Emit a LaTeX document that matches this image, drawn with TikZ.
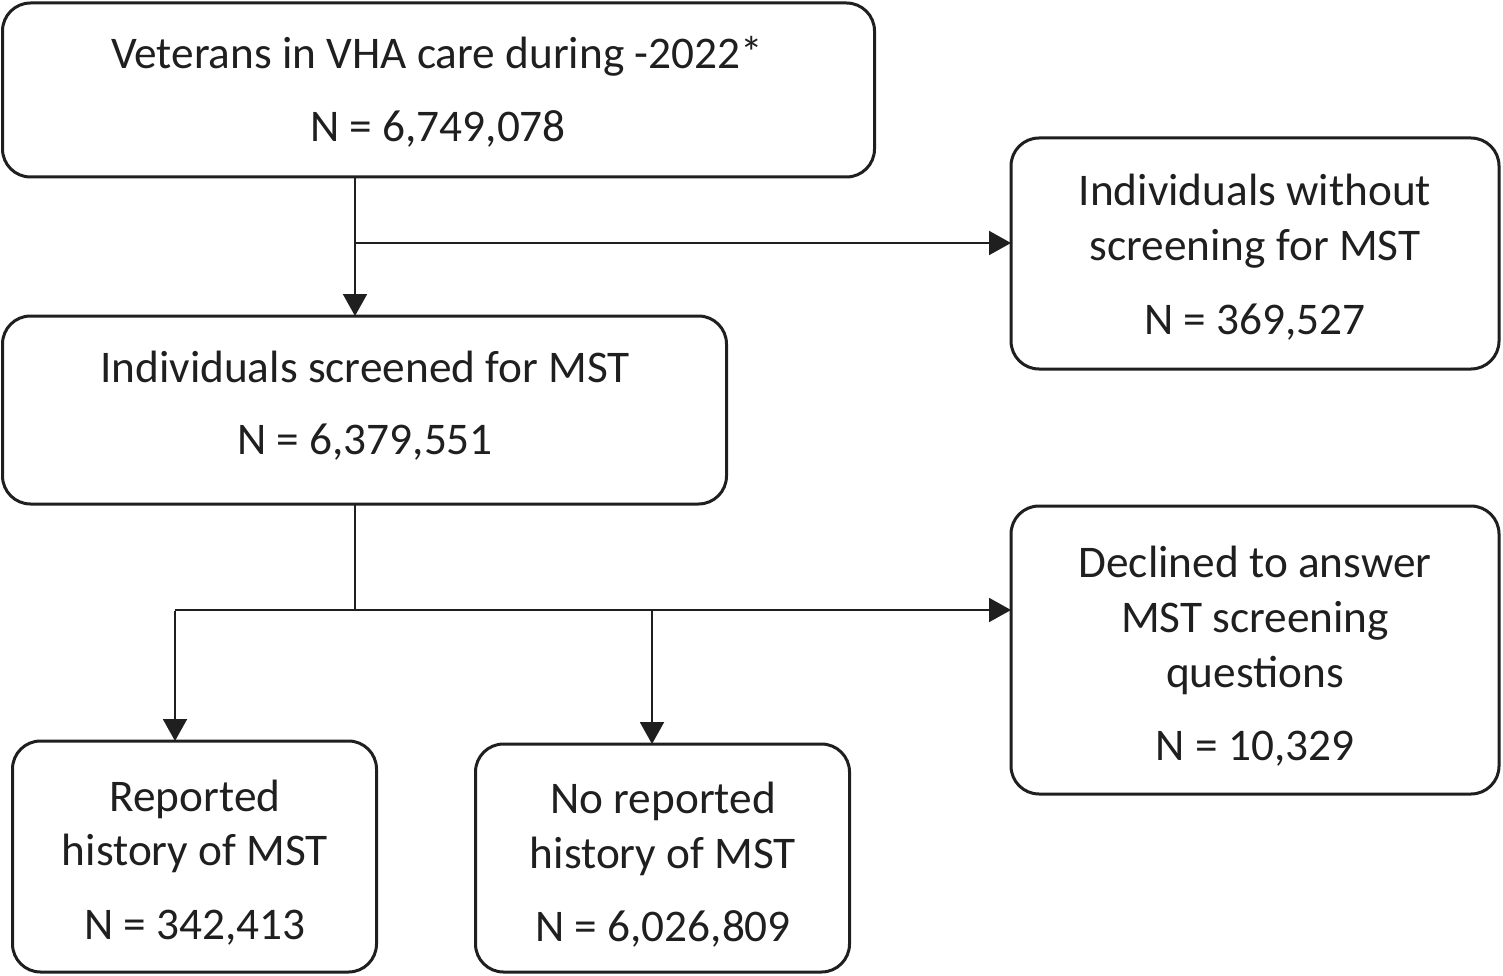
\documentclass[tikz,border=0pt]{standalone}
\usepackage{fontspec}
\setmainfont{Carlito}
\usetikzlibrary{arrows.meta}
\begin{document}
\begin{tikzpicture}[x=1pt,y=-1pt,
  box/.style={draw=black!88,line width=3pt,rounded corners=28pt,inner sep=0pt,outer sep=0pt},
  txt/.style={anchor=base,inner sep=0pt,font=\fontsize{45.3}{50}\selectfont,text=black!88},
  conn/.style={draw=black!88,line width=2pt},
  arr/.style={conn,-{Triangle[length=22pt,width=24pt]}}]
\useasboundingbox (0,0) rectangle (1503,976);
% boxes
\node[box,minimum width=872pt,minimum height=174pt] (top) at (438.5,90) {};
\node[box,minimum width=488pt,minimum height=231pt] (rt) at (1255,253.5) {};
\node[box,minimum width=724pt,minimum height=188pt] (mid) at (364.5,410) {};
\node[box,minimum width=488pt,minimum height=288pt] (rb) at (1255,650) {};
\node[box,minimum width=364pt,minimum height=231pt] (bl) at (194.5,856.5) {};
\node[box,minimum width=374pt,minimum height=228pt] (bm) at (662.5,858) {};
% texts
\node[txt] (t1) at (437,69) {Veterans in VHA care during -2022*};
\node[txt] (t2) at (438,142) {N = 6,749,078};
\node[txt] (r1) at (1255,206) {Individuals without};
\node[txt] (r2) at (1255,261) {screening for MST};
\node[txt] (r3) at (1255,334) {N = 369,527};
\node[txt] (m1) at (365,382) {Individuals screened for MST};
\node[txt] (m2) at (365,454) {N = 6,379,551};
\node[txt] (d1) at (1255,577) {Declined to answer};
\node[txt] (d2) at (1255,632) {MST screening};
\node[txt] (d3) at (1255,687) {questions};
\node[txt] (d4) at (1255,760) {N = 10,329};
\node[txt] (l1) at (195,811) {Reported};
\node[txt] (l2) at (195,865) {history of MST};
\node[txt] (l3) at (195,939) {N = 342,413};
\node[txt] (n1) at (663,813) {No reported};
\node[txt] (n2) at (663,868) {history of MST};
\node[txt] (n3) at (663,941) {N = 6,026,809};
% connectors
\coordinate (j1) at (355,243);
\coordinate (j2) at (355,610);
\coordinate (b1) at (175,610);
\coordinate (b2) at (652,610);
\draw[arr] (top.south -| j1) -- (mid.north -| j1);
\draw[arr] (j1) -- (rt.west |- j1);
\draw[conn] (mid.south -| j2) -- (j2);
\draw[arr] (b1) -- (rb.west |- b1);
\draw[arr] ([yshift=-1pt]b1) -- (bl.north -| b1);
\draw[arr] (b2) -- (bm.north -| b2);
\end{tikzpicture}
\end{document}
